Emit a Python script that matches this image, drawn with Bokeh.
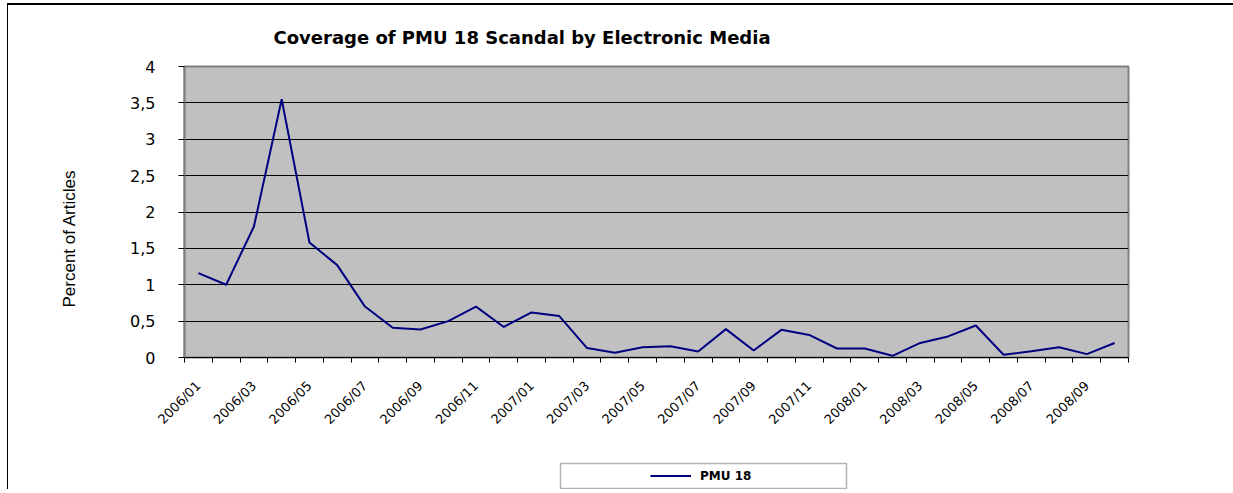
from math import pi
from bokeh.plotting import figure
from bokeh.layouts import column
from bokeh.models import FixedTicker, Legend, LegendItem, Title, BoxAnnotation
from bokeh.embed import file_html
from bokeh.resources import INLINE

months = ["2006/01", "2006/02", "2006/03", "2006/04", "2006/05", "2006/06",
          "2006/07", "2006/08", "2006/09", "2006/10", "2006/11", "2006/12",
          "2007/01", "2007/02", "2007/03", "2007/04", "2007/05", "2007/06",
          "2007/07", "2007/08", "2007/09", "2007/10", "2007/11", "2007/12",
          "2008/01", "2008/02", "2008/03", "2008/04", "2008/05", "2008/06",
          "2008/07", "2008/08", "2008/09", "2008/10"]
pmu18 = [1.16, 1.00, 1.80, 3.55, 1.58, 1.27, 0.70, 0.41, 0.385, 0.50, 0.70, 0.42,
         0.62, 0.57, 0.13, 0.065, 0.14, 0.155, 0.083, 0.39, 0.096, 0.38, 0.31, 0.124,
         0.124, 0.023, 0.20, 0.29, 0.44, 0.037, 0.087, 0.14, 0.046, 0.20]
y_ticks = [0, 0.5, 1, 1.5, 2, 2.5, 3, 3.5, 4]
y_labels = ["0", "0,5", "1", "1,5", "2", "2,5", "3", "3,5", "4"]
series_name = "PMU 18"
title_text = "Coverage of PMU 18 Scandal by Electronic Media"
y_title = "Percent of Articles"

n = len(months)
x = list(range(1, n + 1))
line_color = "#000080"

p = figure(frame_width=944, frame_height=291,
           min_border_left=170, min_border_right=110,
           min_border_top=61, min_border_bottom=96,
           x_range=(0.5, n + 0.5), y_range=(0, 4),
           output_backend="svg", toolbar_location=None, title=title_text)

p.background_fill_color = "#C0C0C0"
p.border_fill_color = "white"
p.outline_line_color = "#808080"
p.outline_line_width = 2

p.title.text_font = "DejaVu Sans"
p.title.text_font_size = "18px"
p.title.text_font_style = "bold"
p.title.text_color = "black"
p.title.align = "left"
p.title.offset = 89
p.title.standoff = 37

# x axis
xa = p.xaxis[0]
xa.ticker = FixedTicker(ticks=x[::2], minor_ticks=[i + 0.5 for i in range(0, n + 1)])
xa.major_label_overrides = {x[i]: months[i] for i in range(0, n, 2)}
xa.major_label_orientation = pi / 4
xa.major_tick_line_color = None
xa.minor_tick_line_color = "black"
xa.minor_tick_in = 0
xa.minor_tick_out = 5
xa.axis_line_color = "black"
xa.major_label_text_font = "DejaVu Sans"
xa.major_label_text_font_size = "13px"
xa.major_label_text_color = "black"
xa.major_label_standoff = 20

# y axis
ya = p.yaxis[0]
ya.ticker = FixedTicker(ticks=y_ticks, minor_ticks=[])
ya.major_label_overrides = {t: l for t, l in zip(y_ticks, y_labels)}
ya.major_tick_in = 0
ya.major_tick_out = 6
ya.major_tick_line_color = "black"
ya.axis_line_color = "#808080"
ya.axis_line_width = 2
ya.major_label_text_font = "DejaVu Sans"
ya.major_label_text_font_size = "16px"
ya.major_label_text_color = "black"
ya.major_label_standoff = 23

# y axis title, placed below centre as in the reference
y_label = Title(text=y_title, align="left", offset=50, standoff=98,
                text_font="Liberation Sans Narrow, Liberation Sans",
                text_font_size="17px", text_font_style="normal", text_color="black")
p.add_layout(y_label, "left")

p.xgrid.grid_line_color = None
p.ygrid.grid_line_color = "black"
p.ygrid.grid_line_width = 1

r = p.line(x, pmu18, line_color=line_color, line_width=2)

# legend strip below the chart (frame aligned with the chart's frame, 1 unit = 1 px)
p2 = figure(frame_width=944, frame_height=36,
            min_border_left=170, min_border_right=110,
            min_border_top=0, min_border_bottom=0,
            x_range=(0, 944), y_range=(0, 36),
            x_axis_location=None, y_axis_location=None,
            output_backend="svg", toolbar_location=None)
p2.grid.visible = False
p2.background_fill_color = "white"
p2.border_fill_color = "white"
p2.outline_line_color = None

legend_box = BoxAnnotation(left=376, right=662, bottom=1, top=26,
                           fill_color="white", fill_alpha=1.0,
                           line_color="black", line_width=1.5)
p2.add_layout(legend_box)

# legend proxy for the series (single point: draws nothing itself)
r2 = p2.line(x=[x[0]], y=[pmu18[0]], line_color=line_color, line_width=2)

legend = Legend(items=[LegendItem(label=series_name, renderers=[r2])],
                location=(466, 5), border_line_color=None,
                background_fill_alpha=0, padding=0, margin=0,
                glyph_width=41, glyph_height=17, label_height=17, label_standoff=9,
                label_text_font="DejaVu Sans", label_text_font_style="bold",
                label_text_font_size="12px", label_text_color="black")
p2.add_layout(legend)

layout = column(p, p2, spacing=0)
layout.styles = {"border-left": "1px solid black", "border-top": "2px solid black",
                 "margin-top": "3px", "margin-left": "7px"}

open("out.html", "w").write(file_html(layout, INLINE))
